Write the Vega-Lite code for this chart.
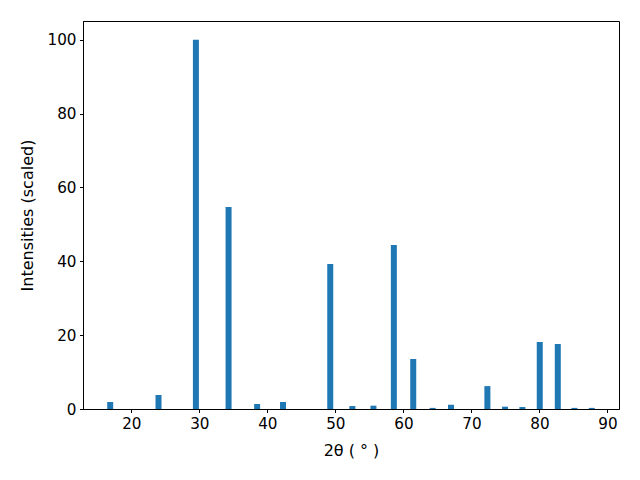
{
  "$schema": "https://vega.github.io/schema/vega-lite/v6.json",
  "autosize": "none",
  "width": 536,
  "height": 388,
  "padding": {"left": 83, "top": 21, "right": 21, "bottom": 71},
  "background": "white",
  "config": {
    "view": {"stroke": "black", "strokeWidth": 1},
    "font": "DejaVu Sans",
    "axis": {
      "labelFont": "DejaVu Sans",
      "titleFont": "DejaVu Sans",
      "labelFontSize": 15.2,
      "titleFontSize": 16,
      "titleFontWeight": "normal",
      "labelColor": "black",
      "titleColor": "black",
      "tickColor": "black",
      "domainColor": "black",
      "tickSize": 3.5,
      "labelPadding": 3.5,
      "grid": false
    }
  },
  "data": {
    "values": [
      {"two_theta": 16.9, "intensity": 1.9},
      {"two_theta": 24.0, "intensity": 3.8},
      {"two_theta": 29.5, "intensity": 100},
      {"two_theta": 34.3, "intensity": 54.7},
      {"two_theta": 38.5, "intensity": 1.35},
      {"two_theta": 42.3, "intensity": 1.9},
      {"two_theta": 49.25, "intensity": 39.3},
      {"two_theta": 52.5, "intensity": 0.8},
      {"two_theta": 55.6, "intensity": 0.9},
      {"two_theta": 58.6, "intensity": 44.4},
      {"two_theta": 61.45, "intensity": 13.55},
      {"two_theta": 64.3, "intensity": 0.3},
      {"two_theta": 67.0, "intensity": 1.15},
      {"two_theta": 72.35, "intensity": 6.2},
      {"two_theta": 74.95, "intensity": 0.63},
      {"two_theta": 77.5, "intensity": 0.54},
      {"two_theta": 80.05, "intensity": 18.15},
      {"two_theta": 82.7, "intensity": 17.6},
      {"two_theta": 85.15, "intensity": 0.3},
      {"two_theta": 87.7, "intensity": 0.3}
    ]
  },
  "mark": {"type": "bar", "size": 6, "color": "#1f77b4"},
  "encoding": {
    "x": {
      "field": "two_theta",
      "type": "quantitative",
      "scale": {"domain": [12.9, 91.7], "nice": false, "zero": false, "padding": 0},
      "axis": {"values": [20, 30, 40, 50, 60, 70, 80, 90], "title": "2θ ( ° )", "titlePadding": 11}
    },
    "y": {
      "field": "intensity",
      "type": "quantitative",
      "scale": {"domain": [0, 105.1], "nice": false, "padding": 0},
      "axis": {"values": [0, 20, 40, 60, 80, 100], "title": "Intensities (scaled)", "titlePadding": 12}
    }
  }
}
